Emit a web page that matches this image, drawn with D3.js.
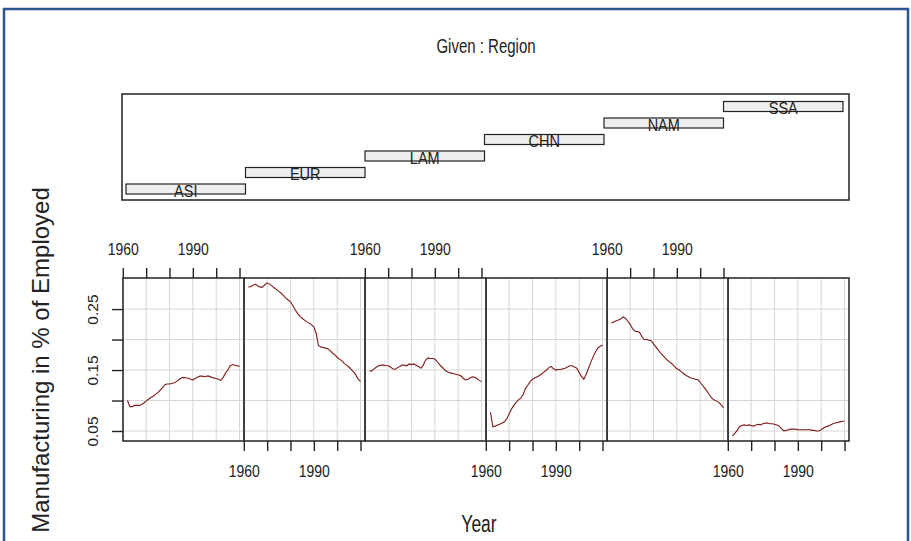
<!DOCTYPE html>
<html>
<head>
<meta charset="utf-8">
<script src="https://cdn.jsdelivr.net/npm/d3@7"></script>
<style>
  body { margin: 0; background: #fff; }
  text { font-family: "Liberation Sans", Arial, sans-serif; fill: #222; }
</style>
</head>
<body>
<svg id="chart" width="911" height="541"></svg>
<script>
// data: manufacturing share of employment by region
var regions = ["ASI", "EUR", "LAM", "CHN", "NAM", "SSA"];
var years = [1962, 1963, 1964, 1965, 1966, 1967, 1968, 1969, 1970, 1971,
  1972, 1973, 1974, 1975, 1976, 1977, 1978, 1979, 1980, 1981,
  1982, 1983, 1984, 1985, 1986, 1987, 1988, 1989, 1990, 1991,
  1992, 1993, 1994, 1995, 1996, 1997, 1998, 1999, 2000, 2001,
  2002, 2003, 2004, 2005, 2006, 2007, 2008, 2009, 2010];

var asi = [0.100, 0.090, 0.090, 0.092, 0.092, 0.092, 0.093, 0.096, 0.099, 0.102,
  0.105, 0.107, 0.110, 0.113, 0.117, 0.121, 0.126, 0.127, 0.127, 0.128,
  0.129, 0.131, 0.134, 0.137, 0.138, 0.137, 0.137, 0.135, 0.134, 0.136,
  0.138, 0.140, 0.140, 0.139, 0.140, 0.140, 0.138, 0.137, 0.136, 0.135,
  0.133, 0.138, 0.145, 0.150, 0.157, 0.159, 0.158, 0.157, 0.156];
var eur = [0.286, 0.287, 0.289, 0.291, 0.288, 0.286, 0.286, 0.290, 0.293, 0.291,
  0.288, 0.285, 0.282, 0.279, 0.276, 0.272, 0.268, 0.265, 0.262, 0.256,
  0.249, 0.243, 0.238, 0.235, 0.232, 0.229, 0.227, 0.224, 0.221, 0.210,
  0.190, 0.188, 0.187, 0.186, 0.185, 0.182, 0.178, 0.175, 0.171, 0.168,
  0.165, 0.161, 0.158, 0.155, 0.151, 0.147, 0.142, 0.135, 0.131];
var lam = [0.148, 0.149, 0.152, 0.155, 0.157, 0.158, 0.158, 0.157, 0.157, 0.155,
  0.152, 0.151, 0.154, 0.156, 0.158, 0.158, 0.157, 0.160, 0.159, 0.160,
  0.158, 0.156, 0.153, 0.158, 0.166, 0.170, 0.169, 0.169, 0.168, 0.164,
  0.159, 0.155, 0.151, 0.148, 0.146, 0.145, 0.144, 0.143, 0.142, 0.141,
  0.137, 0.134, 0.134, 0.137, 0.139, 0.138, 0.136, 0.133, 0.131];
var chn = [0.081, 0.057, 0.058, 0.060, 0.061, 0.063, 0.065, 0.070, 0.078, 0.086,
  0.092, 0.097, 0.101, 0.104, 0.110, 0.120, 0.125, 0.131, 0.135, 0.137,
  0.139, 0.141, 0.144, 0.147, 0.150, 0.154, 0.156, 0.152, 0.150, 0.151,
  0.151, 0.152, 0.153, 0.155, 0.157, 0.157, 0.155, 0.153, 0.146, 0.139,
  0.135, 0.143, 0.153, 0.163, 0.172, 0.180, 0.186, 0.189, 0.191];
var nam = [0.227, 0.229, 0.231, 0.232, 0.234, 0.237, 0.235, 0.230, 0.225, 0.218,
  0.214, 0.213, 0.212, 0.205, 0.200, 0.200, 0.199, 0.198, 0.193, 0.188,
  0.183, 0.178, 0.174, 0.170, 0.166, 0.163, 0.160, 0.156, 0.152, 0.150,
  0.147, 0.144, 0.141, 0.139, 0.137, 0.136, 0.135, 0.134, 0.130, 0.125,
  0.120, 0.115, 0.109, 0.104, 0.101, 0.099, 0.097, 0.093, 0.088];
var ssa = [0.042, 0.046, 0.051, 0.057, 0.059, 0.060, 0.059, 0.060, 0.059, 0.058,
  0.060, 0.061, 0.060, 0.062, 0.063, 0.063, 0.062, 0.062, 0.061, 0.060,
  0.058, 0.054, 0.050, 0.051, 0.052, 0.053, 0.053, 0.053, 0.052, 0.052,
  0.052, 0.052, 0.052, 0.052, 0.051, 0.051, 0.050, 0.050, 0.052, 0.055,
  0.057, 0.058, 0.060, 0.062, 0.063, 0.064, 0.065, 0.066, 0.066];

var series = [asi, eur, lam, chn, nam, ssa];
var xTicks = [1960, 1970, 1980, 1990, 2000, 2010];
var xLabels = [1960, 1990];
var yTicks = [0.05, 0.10, 0.15, 0.20, 0.25];
var yLabels = [0.05, 0.15, 0.25];

var svg = d3.select("#chart");
var ink = "#222";

// text in the original is drawn tall and narrow
function tallText(parent, x, y, size, sy, str) {
  return parent.append("text")
    .attr("transform", "translate(" + x + "," + y + ") scale(1," + sy + ")")
    .attr("text-anchor", "middle")
    .style("font-size", size + "px")
    .text(str);
}

// blue frame around the whole picture
svg.append("rect")
  .attr("x", 4).attr("y", 9)
  .attr("width", 904).attr("height", 600)
  .attr("fill", "none")
  .attr("stroke", "#2b568f")
  .attr("stroke-width", 2.5);

tallText(svg, 486, 53, 15, 1.35, "Given : Region");

// given panel with the stepped level bars
var gx = d3.scaleLinear().domain([0.5, 6.5]).range([126, 843]);
var gy = d3.scaleLinear().domain([1, 6]).range([189, 106.5]);

svg.append("rect")
  .attr("x", 122).attr("y", 94)
  .attr("width", 727).attr("height", 106)
  .attr("fill", "none")
  .attr("stroke", ink)
  .attr("stroke-width", 1.5);

var bars = svg.append("g");
regions.forEach(function(r, i) {
  bars.append("rect")
    .attr("x", gx(i + 0.5))
    .attr("y", gy(i + 1) - 5)
    .attr("width", gx(1.5) - gx(0.5))
    .attr("height", 10)
    .attr("fill", "#eeeeee")
    .attr("stroke", ink)
    .attr("stroke-width", 1.2);
  tallText(bars, gx(i + 1), gy(i + 1) + 7.5, 14.5, 1.1, r);
});

// dependence panels
var pLeft = 123, pRight = 849, pTop = 278, pBottom = 441;
var pw = (pRight - pLeft) / regions.length;
var tickStretch = 1.15;

var y = d3.scaleLinear().domain([0.0336, 0.301]).range([pBottom, pTop]);

var line = d3.line()
  .x(function(d) { return d.x; })
  .y(function(d) { return y(d.v); })
  .curve(d3.curveLinear);

regions.forEach(function(r, i) {
  var left = pLeft + i * pw;
  var x = d3.scaleLinear().domain([1960.08, 2011.92]).range([left, left + pw]);
  var g = svg.append("g").attr("class", "panel");

  g.selectAll(".vgrid")
    .data(xTicks)
    .enter().append("line")
    .attr("x1", function(d) { return x(d); })
    .attr("x2", function(d) { return x(d); })
    .attr("y1", pTop).attr("y2", pBottom)
    .attr("stroke", "#d6d6d6");

  g.selectAll(".hgrid")
    .data(yTicks)
    .enter().append("line")
    .attr("x1", left).attr("x2", left + pw)
    .attr("y1", function(d) { return y(d); })
    .attr("y2", function(d) { return y(d); })
    .attr("stroke", "#d6d6d6");

  var pts = years.map(function(yr, j) {
    return { x: x(yr), v: series[i][j] };
  });

  g.append("path")
    .datum(pts)
    .attr("fill", "none")
    .attr("stroke", "#7d1a1a")
    .attr("stroke-width", 1.1)
    .attr("d", line);

  g.append("rect")
    .attr("x", left).attr("y", pTop)
    .attr("width", pw).attr("height", pBottom - pTop)
    .attr("fill", "none")
    .attr("stroke", ink)
    .attr("stroke-width", 1.5);

  // x axes alternate between top and bottom
  var top = i % 2 === 0;
  var axis = (top ? d3.axisTop(x) : d3.axisBottom(x))
    .tickValues(xTicks)
    .tickSize(10)
    .tickFormat(function(d) { return xLabels.indexOf(d) >= 0 ? d : ""; });

  var ax = g.append("g")
    .attr("transform", "translate(0," + (top ? pTop : pBottom) + ")")
    .call(axis);
  ax.select(".domain").remove();
  ax.selectAll("line").attr("stroke", ink).attr("stroke-width", 1.4);
  ax.selectAll("text")
    .style("font-size", "14px")
    .attr("fill", ink)
    .attr("dy", 0)
    .attr("y", (top ? -23 : 36) / tickStretch)
    .attr("transform", "scale(1," + tickStretch + ")");
});

// y axis with rotated labels
var yAxis = d3.axisLeft(y)
  .tickValues(yTicks)
  .tickSize(11)
  .tickFormat(function(d) {
    return yLabels.some(function(v) { return Math.abs(v - d) < 1e-9; }) ? d3.format(".2f")(d) : "";
  });

var ya = svg.append("g")
  .attr("transform", "translate(" + pLeft + ",0)")
  .call(yAxis);
ya.select(".domain").remove();
ya.selectAll("line").attr("stroke", ink).attr("stroke-width", 1.4);
ya.selectAll("text")
  .style("font-size", "15.5px")
  .attr("fill", ink)
  .attr("x", null).attr("dy", null)
  .attr("text-anchor", "middle")
  .attr("transform", "translate(-25,0) rotate(-90)");

tallText(svg, 479, 532, 17.5, 1.35, "Year");

svg.append("text")
  .attr("transform", "translate(49,360) rotate(-90)")
  .attr("text-anchor", "middle")
  .style("font-size", "24px")
  .text("Manufacturing in % of Employed");
</script>
</body>
</html>
